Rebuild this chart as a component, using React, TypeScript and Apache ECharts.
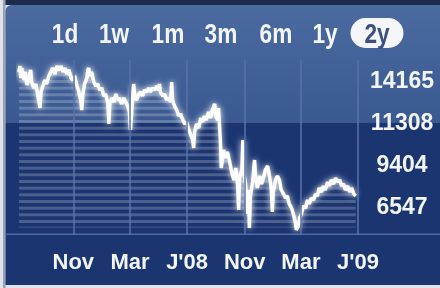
import React, { useEffect, useRef } from 'react';
import * as echarts from 'echarts';

const periods = ['1d', '1w', '1m', '3m', '6m', '1y', '2y'];
const selectedPeriod = '2y';
const yTickLabels = ['6547', '9404', '11308', '14165'];
const xTickDates = ['2007-11-01', '2008-03-01', '2008-07-01', '2008-11-01', '2009-03-01', '2009-07-01'];
const xTickLabels = ['Nov', 'Mar', "J'08", 'Nov', 'Mar', "J'09"];

const dates = [
  '2007-07-08', '2007-07-10', '2007-07-12', '2007-07-14', '2007-07-19', '2007-07-21', '2007-07-25', '2007-07-29',
  '2007-08-02', '2007-08-04', '2007-08-09', '2007-08-13', '2007-08-17', '2007-08-22', '2007-08-24', '2007-08-28',
  '2007-09-01', '2007-09-05', '2007-09-10', '2007-09-14', '2007-09-18', '2007-09-23', '2007-09-27',
  '2007-10-01', '2007-10-06', '2007-10-10', '2007-10-14', '2007-10-18', '2007-10-23', '2007-10-27', '2007-10-31',
  '2007-11-04', '2007-11-09', '2007-11-13', '2007-11-17', '2007-11-19', '2007-11-21', '2007-11-25', '2007-11-30',
  '2007-12-02', '2007-12-04', '2007-12-06', '2007-12-10', '2007-12-15', '2007-12-19', '2007-12-23', '2007-12-28',
  '2008-01-01', '2008-01-05', '2008-01-09', '2008-01-14', '2008-01-16', '2008-01-18', '2008-01-22', '2008-01-27', '2008-01-31',
  '2008-02-04', '2008-02-08', '2008-02-12', '2008-02-17', '2008-02-21', '2008-02-25', '2008-02-29',
  '2008-03-02', '2008-03-05', '2008-03-09', '2008-03-11', '2008-03-15', '2008-03-20', '2008-03-24', '2008-03-28',
  '2008-04-01', '2008-04-06', '2008-04-10', '2008-04-14', '2008-04-18', '2008-04-23', '2008-04-27',
  '2008-05-01', '2008-05-03', '2008-05-05', '2008-05-10', '2008-05-14', '2008-05-18', '2008-05-23', '2008-05-27', '2008-05-29', '2008-05-31',
  '2008-06-04', '2008-06-09', '2008-06-13', '2008-06-17', '2008-06-22', '2008-06-26', '2008-06-30',
  '2008-07-04', '2008-07-08', '2008-07-13', '2008-07-15', '2008-07-17', '2008-07-21', '2008-07-26', '2008-07-30',
  '2008-08-03', '2008-08-07', '2008-08-11', '2008-08-16', '2008-08-20', '2008-08-24', '2008-08-29', '2008-08-31',
  '2008-09-04', '2008-09-06', '2008-09-08', '2008-09-10', '2008-09-12', '2008-09-17', '2008-09-21', '2008-09-25', '2008-09-30',
  '2008-10-04', '2008-10-09', '2008-10-13', '2008-10-17', '2008-10-19', '2008-10-21', '2008-10-26', '2008-10-28', '2008-10-30',
  '2008-11-03', '2008-11-05', '2008-11-07', '2008-11-09', '2008-11-11', '2008-11-13', '2008-11-18', '2008-11-22', '2008-11-24', '2008-11-28',
  '2008-12-03', '2008-12-07', '2008-12-11', '2008-12-15', '2008-12-20', '2008-12-24', '2008-12-28', '2008-12-30',
  '2009-01-01', '2009-01-06', '2009-01-10', '2009-01-14', '2009-01-18', '2009-01-23', '2009-01-27', '2009-01-31',
  '2009-02-04', '2009-02-09', '2009-02-13', '2009-02-17', '2009-02-19', '2009-02-24', '2009-02-26',
  '2009-03-02', '2009-03-06', '2009-03-11', '2009-03-15', '2009-03-19', '2009-03-23', '2009-03-28',
  '2009-04-01', '2009-04-05', '2009-04-09', '2009-04-14', '2009-04-18', '2009-04-22', '2009-04-27',
  '2009-05-01', '2009-05-05', '2009-05-10', '2009-05-14', '2009-05-18', '2009-05-23', '2009-05-27', '2009-05-31',
  '2009-06-04', '2009-06-09', '2009-06-13', '2009-06-17', '2009-06-22', '2009-06-26',
];

const values = [
  13891, 14171, 13612, 14077, 13519, 13891, 13286, 13612,
  13984, 13425, 13146, 13332, 12820, 12215, 12960, 13239,
  13519, 13332, 13705, 13891, 14077, 13798, 14171,
  13984, 14165, 13891, 14077, 13798, 13984, 13612, 13519,
  13705, 13239, 12960, 12587, 12121, 12773, 13332, 13612,
  13984, 14077, 13705, 13891, 13425, 13239, 13332, 13053,
  13146, 12773, 12867, 12401, 11469, 12401, 12680, 12494, 12867,
  12587, 12680, 12401, 12680, 12494, 12308, 12028,
  11190, 12121, 13332, 12773, 12587, 12867, 12960, 12773,
  13053, 12960, 13146, 12960, 13146, 13053, 13239,
  13053, 13332, 12960, 12773, 12867, 12587, 12680, 12494, 13425, 12587,
  12308, 12121, 11842, 11935, 11656, 11469, 11563,
  11283, 11004, 10724, 10352, 11097, 11469, 11283, 11749,
  11563, 11842, 11656, 12028, 11749, 12121, 12401, 11842,
  11656, 12215, 11469, 10724, 9420, 10259, 9886, 10166, 9700,
  9234, 8861, 9420, 8582, 7464, 8955, 9327, 10724, 9234,
  8675, 7930, 7278, 8396, 6626, 8116, 8768, 9793, 9048, 8489,
  9048, 8675, 8955, 9327, 9514, 9048, 8396, 7371,
  8302, 8861, 9048, 8861, 8396, 8210, 8023, 8116,
  7744, 7558, 7278, 6906, 6547, 6719, 7092,
  7278, 7651, 7558, 7930, 7744, 8023, 7930,
  8210, 8116, 8489, 8302, 8582, 8396, 8768,
  8582, 8861, 8675, 8955, 8768, 8861, 8582, 8675,
  8396, 8582, 8302, 8489, 8210, 8116,
];

const FONT = "'Liberation Sans', Arial, sans-serif";

export default function App() {
  const ref = useRef<HTMLDivElement>(null);

  useEffect(() => {
    const el = ref.current!;
    const chart = echarts.init(el, null, { renderer: 'svg' });

    const cv = document.createElement('canvas');
    cv.width = 8;
    cv.height = 20;
    const ctx = cv.getContext('2d')!;
    ctx.fillStyle = 'rgba(255,255,255,0.30)';
    [0, 6.667, 13.333].forEach((y) => ctx.fillRect(0, y, 8, 3));

    const parse = (s: string) => echarts.number.parseDate(s).getTime();
    const tickTimes = xTickDates.map(parse);

    const buttonX = [65, 114, 168, 221, 276, 325, 377];
    const btnY = 33;

    const graphics: any[] = [
      { type: 'rect', z: -100, silent: true, shape: { x: 0, y: 0, width: 440, height: 288 }, style: { fill: '#dfe2e8' } },
      { type: 'rect', z: -99, silent: true, shape: { x: 3, y: 0, width: 437, height: 5 }, style: { fill: '#1c2a4c' } },
      { type: 'rect', z: -99, silent: true, shape: { x: 3, y: 0, width: 2.5, height: 288 }, style: { fill: '#9aa2b2' } },
      {
        type: 'rect', z: -98, silent: true,
        shape: { x: 5.5, y: 5, width: 440, height: 118, r: [6, 0, 0, 0] },
        style: {
          fill: new echarts.graphic.LinearGradient(0, 0, 0, 1, [
            { offset: 0, color: '#4a6aa0' },
            { offset: 1, color: '#3a5991' },
          ]),
        },
      },
      { type: 'rect', z: -98, silent: true, shape: { x: 5.5, y: 123, width: 440, height: 162 }, style: { fill: '#1b3571' } },
      { type: 'rect', z: -97, silent: true, shape: { x: 5.5, y: 233.5, width: 440, height: 1.6 }, style: { fill: '#4d68a2' } },
    ];

    periods.forEach((p, i) => {
      if (p === selectedPeriod) {
        graphics.push({
          type: 'rect', z: 10, silent: true,
          shape: { x: buttonX[i] - 26.5, y: btnY - 15, width: 53, height: 30, r: 15 },
          style: { fill: '#f4f6fa' },
        });
      }
      graphics.push({
        type: 'text', z: 11, silent: true,
        x: buttonX[i], y: btnY,
        scaleX: 0.84,
        style: {
          text: p,
          fill: p === selectedPeriod ? '#3b4f80' : '#f2f5fa',
          font: `bold 27px ${FONT}`,
          align: 'center',
          verticalAlign: 'middle',
        },
      });
    });

    const option: any = {
      animation: false,
      backgroundColor: 'transparent',
      graphic: graphics,
      grid: [
        { left: 18, right: 81, top: 60, bottom: 53, show: false },
        { left: 18, right: 82, top: 59, height: 168, show: false },
      ],
      xAxis: [
        {
          type: 'value',
          gridIndex: 0,
          min: parse('2007-07-06'),
          max: parse('2009-07-03'),
          axisLine: { show: false },
          axisTick: { show: false },
          splitLine: { show: false },
          axisLabel: {
            show: true,
            customValues: tickTimes,
            formatter: (v: number) => {
              let best = 0;
              let bd = Infinity;
              tickTimes.forEach((t, i) => {
                const d = Math.abs(t - v);
                if (d < bd) { bd = d; best = i; }
              });
              return xTickLabels[best];
            },
            margin: 15,
            color: '#f2f5fa',
            fontFamily: FONT,
            fontWeight: 'bold',
            fontSize: 22,
            hideOverlap: false,
          },
        },
        { type: 'value', gridIndex: 1, show: false, min: 0, max: 1 },
      ],
      yAxis: [
        { type: 'value', gridIndex: 0, min: 6300, max: 14450, show: false },
        {
          type: 'category',
          gridIndex: 1,
          position: 'right',
          data: yTickLabels,
          axisLine: { show: false },
          axisTick: { show: false },
          splitLine: { show: false },
          axisLabel: {
            margin: 44,
            align: 'center',
            color: '#f2f5fa',
            fontFamily: FONT,
            fontWeight: 'bold',
            fontSize: 23,
          },
        },
      ],
      series: [
        {
          type: 'line',
          xAxisIndex: 0,
          yAxisIndex: 0,
          z: 1,
          data: [],
          symbol: 'none',
          markLine: {
            silent: true,
            symbol: ['none', 'none'],
            label: { show: false },
            lineStyle: { color: '#5873a8', width: 1.5, type: 'solid' },
            data: tickTimes.map((t) => ({ xAxis: t })),
          },
        },
        {
          type: 'line',
          xAxisIndex: 0,
          yAxisIndex: 0,
          z: 2,
          showSymbol: false,
          symbol: 'none',
          data: dates.map((d, i) => [parse(d), values[i]]),
          lineStyle: {
            color: '#ffffff',
            width: 3.5,
            shadowColor: 'rgba(255,255,255,0.95)',
            shadowBlur: 6,
          },
          areaStyle: {
            origin: 6650,
            color: { image: cv, repeat: 'repeat', imageWidth: 8, imageHeight: 20 },
          },
        },
      ],
    };

    chart.setOption(option);
    return () => chart.dispose();
  }, []);

  return <div ref={ref} style={{ position: 'fixed', left: 0, top: 0, width: 440, height: 288 }} />;
}
